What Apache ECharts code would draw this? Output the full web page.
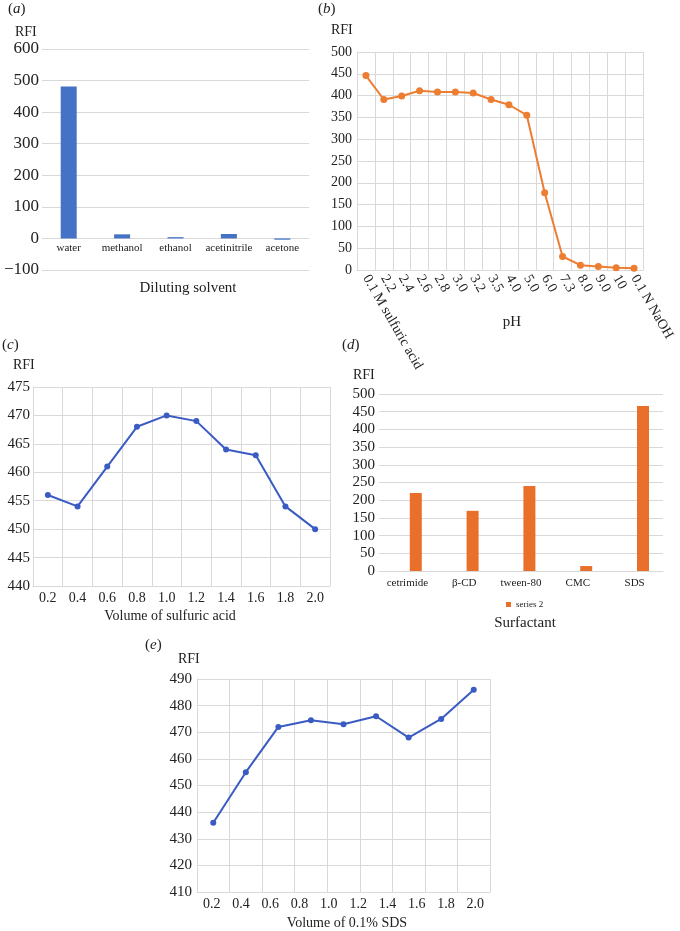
<!DOCTYPE html>
<html><head><meta charset="utf-8">
<script src="https://cdn.jsdelivr.net/npm/echarts@6/dist/echarts.min.js"></script>
<style>html,body{margin:0;padding:0;background:#fff}#c{width:680px;height:931px}</style>
</head><body><div id="c"></div>
<script>
// (a) diluting solvent
const solvents = ['water', 'methanol', 'ethanol', 'acetinitrile', 'acetone'];
const solventRFI = [481, 13, 4, 14, -4];
const solventTicks = { min: -100, max: 600, interval: 100 };
// (b) pH
const phLabels = ['0.1 M sulfuric acid', '2.2', '2.4', '2.6', '2.8', '3.0', '3.2', '3.5', '4.0', '5.0', '6.0', '7.3', '8.0', '9.0', '10', '0.1 N NaOH'];
const phRFI = [446, 391, 399, 411, 408, 408, 406, 391, 379, 355, 177, 31, 11, 8, 5, 4];
const phTicks = { min: 0, max: 500, interval: 50 };
// (c) volume of sulfuric acid
const acidVolumes = ['0.2', '0.4', '0.6', '0.8', '1.0', '1.2', '1.4', '1.6', '1.8', '2.0'];
const acidRFI = [456, 454, 461, 468, 470, 469, 464, 463, 454, 450];
const acidTicks = { min: 440, max: 475, interval: 5 };
// (d) surfactant
const surfactants = ['cetrimide', 'β-CD', 'tween-80', 'CMC', 'SDS'];
const surfactantRFI = [220, 170, 240, 14, 466];
const surfactantSeries1 = [];
const surfTicks = { min: 0, max: 500, interval: 50 };
// (e) volume of 0.1% SDS
const sdsTickLabels = ['0.2', '0.4', '0.6', '0.8', '1.0', '1.2', '1.4', '1.6', '1.8', '2.0'];
const sdsPoints = ['p1', 'p2', 'p3', 'p4', 'p5', 'p6', 'p7', 'p8', 'p9'];
const sdsRFI = [436, 455, 472, 474.5, 473, 476, 468, 475, 486];
const sdsTicks = { min: 410, max: 490, interval: 10 };

const FONT = "'Liberation Serif', 'DejaVu Serif', serif";
const TXT = '#222';
const GRID = '#d9d9d9';

const chart = echarts.init(document.getElementById('c'), null, { renderer: 'canvas', width: 680, height: 931 });

function yAx(gi, t, fs, margin, lineShow, fmt) {
  return {
    type: 'value', gridIndex: gi, min: t.min, max: t.max, interval: t.interval,
    axisLine: { show: !!lineShow, lineStyle: { color: GRID } },
    axisTick: { show: false },
    splitLine: { show: true, lineStyle: { color: GRID, width: 1 } },
    axisLabel: { color: TXT, fontFamily: FONT, fontSize: fs, margin: margin, formatter: fmt }
  };
}
function xCat(gi, data, fs, margin, split, extra) {
  return Object.assign({
    type: 'category', gridIndex: gi, data: data, boundaryGap: true,
    axisLine: { show: true, onZero: false, lineStyle: { color: GRID } },
    axisTick: { show: false },
    splitLine: { show: split, lineStyle: { color: GRID, width: 1 } },
    axisLabel: { color: TXT, fontFamily: FONT, fontSize: fs, margin: margin, interval: 0 }
  }, extra || {});
}
function txt(x, y, text, fs, align, rich) {
  return {
    type: 'text', x: x, y: y,
    style: {
      text: text, fill: TXT, font: fs + 'px ' + FONT,
      textAlign: align || 'left', textVerticalAlign: 'middle',
      rich: rich ? { i: { fontStyle: 'italic', fontSize: fs, fontFamily: FONT, fill: TXT } } : undefined
    }
  };
}
const minusFmt = v => (v < 0 ? '\u2212' + Math.abs(v) : String(v));

const option = {
  animation: false,
  backgroundColor: '#fff',
  grid: [
    { left: 42, right: 371, top: 49, bottom: 661 },
    { left: 357, right: 37, top: 52, bottom: 661 },
    { left: 33, right: 350, top: 387, bottom: 345 },
    { left: 379, right: 17, top: 394, bottom: 360 },
    { left: 197, right: 190, top: 679, bottom: 39 }
  ],
  xAxis: [
    xCat(0, solvents, 11, 4, false, { offset: -31.6, axisLine: { show: false } }),
    xCat(1, phLabels, 14, 6, true, { axisLabel: { color: TXT, fontFamily: FONT, fontSize: 14, margin: 6, interval: 0, rotate: -60 } }),
    xCat(2, acidVolumes, 14, 5, true),
    xCat(3, surfactants, 11, 7, false),
    xCat(4, sdsPoints, 14, 5, true, { axisLabel: { show: false } }),
    xCat(4, sdsTickLabels, 14, 5, false, { axisLine: { show: false }, position: 'bottom' })
  ],
  yAxis: [
    yAx(0, solventTicks, 17, 3, false, minusFmt),
    yAx(1, phTicks, 14, 5, true),
    yAx(2, acidTicks, 15, 3, true),
    yAx(3, surfTicks, 15, 4, false),
    yAx(4, sdsTicks, 15, 5, true)
  ],
  legend: {
    data: ['series 2'], left: 506, top: 600, itemWidth: 5, itemHeight: 5, icon: 'rect',
    itemGap: 6, padding: 0,
    textStyle: { fontFamily: FONT, fontSize: 9, color: TXT }
  },
  series: [
    { type: 'bar', xAxisIndex: 0, yAxisIndex: 0, data: solventRFI, barWidth: 16, itemStyle: { color: '#4472C4' } },
    { type: 'line', xAxisIndex: 1, yAxisIndex: 1, data: phRFI, symbol: 'circle', symbolSize: 7,
      lineStyle: { color: '#ED7D31', width: 2 }, itemStyle: { color: '#ED7D31' } },
    { type: 'line', xAxisIndex: 2, yAxisIndex: 2, data: acidRFI, symbol: 'circle', symbolSize: 6,
      lineStyle: { color: '#3A5BC2', width: 2 }, itemStyle: { color: '#3A5BC2' } },
    { type: 'bar', name: 'series 1', xAxisIndex: 3, yAxisIndex: 3, data: surfactantSeries1, barWidth: 12, barGap: '40%' },
    { type: 'bar', name: 'series 2', xAxisIndex: 3, yAxisIndex: 3, data: surfactantRFI, barWidth: 12, barGap: '40%', itemStyle: { color: '#E8702A' } },
    { type: 'line', xAxisIndex: 4, yAxisIndex: 4, data: sdsRFI, symbol: 'circle', symbolSize: 6,
      lineStyle: { color: '#3A5BC2', width: 2 }, itemStyle: { color: '#3A5BC2' } }
  ],
  graphic: [
    txt(8, 9, '({i|a})', 15, 'left', true),
    txt(15, 32, 'RFI', 14),
    txt(188, 288, 'Diluting solvent', 15, 'center'),
    txt(318, 9, '({i|b})', 15, 'left', true),
    txt(331, 30, 'RFI', 14),
    txt(512, 322, 'pH', 15, 'center'),
    txt(2, 345, '({i|c})', 15, 'left', true),
    txt(13, 365, 'RFI', 14),
    txt(170, 616, 'Volume of sulfuric acid', 14, 'center'),
    txt(342, 345, '({i|d})', 15, 'left', true),
    txt(353, 375, 'RFI', 14),
    txt(525, 623, 'Surfactant', 15, 'center'),
    txt(145, 645, '({i|e})', 15, 'left', true),
    txt(178, 659, 'RFI', 14),
    txt(347, 923, 'Volume of 0.1% SDS', 14, 'center')
  ]
};
chart.setOption(option);
</script>
</body></html>
